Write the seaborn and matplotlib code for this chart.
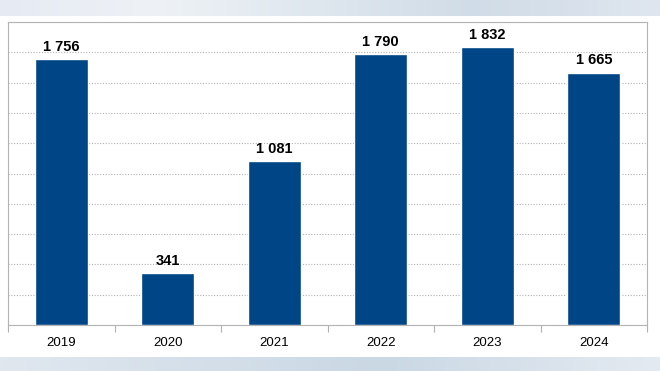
import numpy as np
import pandas as pd
import seaborn as sns
import matplotlib.pyplot as plt
from matplotlib.colors import LinearSegmentedColormap

# Data
years = ['2019', '2020', '2021', '2022', '2023', '2024']
values = [1756, 341, 1081, 1790, 1832, 1665]

df = pd.DataFrame({'year': years, 'value': values})

sns.set_theme(style='white')
plt.rcParams['font.family'] = ['Liberation Sans', 'DejaVu Sans']

fig = plt.figure(figsize=(6.6, 3.71), dpi=100)
fig.patch.set_facecolor('white')

# Background gradient bands (top and bottom)
bg = fig.add_axes([0, 0, 1, 1], zorder=-10)
grad = np.linspace(0, 1, 256).reshape(1, -1)
top_cmap = LinearSegmentedColormap.from_list(
    'top', [(0, '#e6eaf3'), (0.23, '#eef2f6'), (0.72, '#d0dce7'), (1, '#dfe6ef')])
bot_cmap = LinearSegmentedColormap.from_list(
    'bot', [(0, '#e0e7ef'), (0.58, '#cad8e4'), (1, '#e4eaf1')])
bg.imshow(grad, extent=[0, 1, 1 - 16 / 371, 1], aspect='auto', cmap=top_cmap)
bg.imshow(grad, extent=[0, 1, 0, 14 / 371], aspect='auto', cmap=bot_cmap)
bg.set_xlim(0, 1)
bg.set_ylim(0, 1)
bg.axis('off')

ax = fig.add_axes([8 / 660, (371 - 325) / 371, (647 - 8) / 660, (325 - 22) / 371])
sns.barplot(data=df, x='year', y='value', color='#004586', width=0.5,
            saturation=1, ax=ax, zorder=3)

ax.set_ylim(0, 2000)
ax.set_xlim(-0.5, len(years) - 0.5)
ax.set_yticks(np.arange(0, 2001, 200))
ax.set_yticklabels([])
ax.tick_params(axis='y', length=0)
ax.grid(axis='y', color='#b3b3b3', linestyle=(0, (1, 1.5)), linewidth=0.8, zorder=0)
ax.set_axisbelow(True)

# category separators as ticks below axis
ax.set_xticks(np.arange(-0.5, len(years), 1), minor=True)
ax.tick_params(axis='x', which='minor', length=5, color='#b3b3b3', width=0.8, direction='out', bottom=True)
ax.tick_params(axis='x', which='major', length=0, labelsize=9.5, pad=9, colors='black')
ax.set_xlabel('')
ax.set_ylabel('')

for s in ax.spines.values():
    s.set_color('#b3b3b3')
    s.set_linewidth(0.8)

for i, v in enumerate(values):
    ax.text(i, v + 35, f'{v:,}'.replace(',', ' '), ha='center', va='bottom',
            fontsize=10.5, fontweight='bold', color='black')

fig.savefig('out.png', dpi=100)
